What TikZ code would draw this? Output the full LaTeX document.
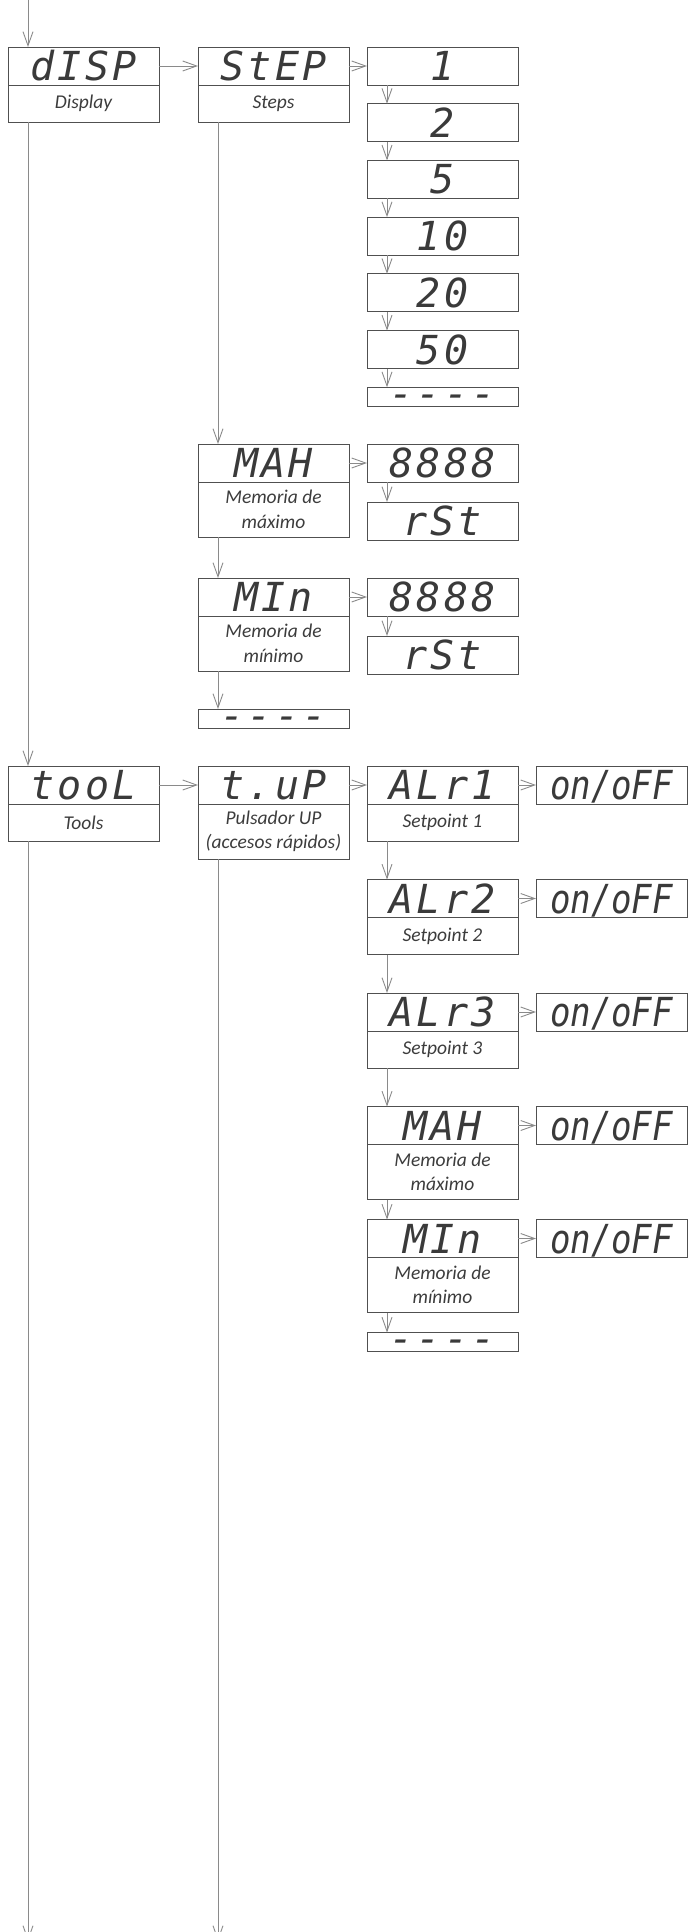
\documentclass[tikz,border=0pt]{standalone}
\usepackage{fontspec}
\usetikzlibrary{arrows.meta, positioning}

\newfontfamily\lblfont{Carlito}
\newfontfamily\segfont{DejaVu Sans Mono}[LetterSpace=8]
\newfontfamily\segnarrowfont{DejaVu Sans Mono}[FakeStretch=0.85]

\definecolor{boxline}{HTML}{505050}
\definecolor{connline}{HTML}{8A8A8A}
\definecolor{segtext}{HTML}{3A3A3A}
\definecolor{lbltext}{HTML}{3C3C3C}

\begin{document}
\begin{tikzpicture}[
  x=1pt, y=1pt,
  node distance=18pt,
  seg/.style={draw=boxline, line width=0.9pt, outer sep=0pt, inner sep=0pt,
    minimum width=151pt, minimum height=38pt, text height=29pt, text depth=0pt,
    text=segtext, font=\segfont\itshape\fontsize{40}{40}\selectfont},
  segnarrow/.style={seg, font=\segnarrowfont\itshape\fontsize{40}{40}\selectfont},
  dashbox/.style={seg, minimum height=19pt, text height=0pt, text depth=0pt},
  lbl/.style={draw=boxline, line width=0.9pt, outer sep=0pt, inner sep=0pt,
    minimum width=151pt, minimum height=37pt, align=center,
    text=lbltext, font=\lblfont\itshape\fontsize{19.5}{24.5}\selectfont},
  lbltwo/.style={lbl, minimum height=55pt},
  conn/.style={draw=connline, line width=0.9pt,
    -{Straight Barb[length=14pt, width=10pt]}}
]
\useasboundingbox (0,0) rectangle (689,-1932);

% first level
\node[seg, anchor=north west] (disp) at (8,-47) {dISP};
\node[lbl, below=0pt of disp] (disp-l) {Display};
\node[seg, below=644pt of disp-l] (tool) {tooL};
\node[lbl, below=0pt of tool] (tool-l) {Tools};

% display menu
\node[seg, right=39pt of disp] (step) {StEP};
\node[lbl, below=0pt of step] (step-l) {Steps};
\node[seg, right=of step] (st1) {1};
\node[seg, below=18.7pt of st1] (st2) {2};
\node[seg, below=18.7pt of st2] (st5) {5};
\node[seg, below=18.7pt of st5] (st10) {10};
\node[seg, below=18.7pt of st10] (st20) {20};
\node[seg, below=18.7pt of st20] (st50) {50};
\node[dashbox, below=18.7pt of st50] (st-end) {\raisebox{-10.8pt}{----}};

\node[seg, below=322pt of step-l] (max) {MAH};
\node[lbltwo, below=0pt of max] (max-l) {Memoria de\\máximo};
\node[seg, right=of max] (max-v) {8888};
\node[seg, below=20pt of max-v] (max-r) {rSt};
\node[seg, below=41pt of max-l] (min) {MIn};
\node[lbltwo, below=0pt of min] (min-l) {Memoria de\\mínimo};
\node[seg, right=of min] (min-v) {8888};
\node[seg, below=20pt of min-v] (min-r) {rSt};
\node[dashbox, below=38pt of min-l] (disp-end) {\raisebox{-10.8pt}{----}};

% tools menu
\node[seg, right=39pt of tool] (tup) {t.uP};
\node[lbltwo, below=0pt of tup] (tup-l) {Pulsador UP\\(accesos rápidos)};
\node[seg, right=of tup] (alr1) {ALr1};
\node[lbl, below=0pt of alr1] (alr1-l) {Setpoint 1};
\node[seg, below=38.5pt of alr1-l] (alr2) {ALr2};
\node[lbl, below=0pt of alr2] (alr2-l) {Setpoint 2};
\node[seg, below=38.5pt of alr2-l] (alr3) {ALr3};
\node[lbl, below=0pt of alr3] (alr3-l) {Setpoint 3};
\node[seg, below=38.5pt of alr3-l] (tmax) {MAH};
\node[lbltwo, below=0pt of tmax] (tmax-l) {Memoria de\\máximo};
\node[seg, below=20pt of tmax-l] (tmin) {MIn};
\node[lbltwo, below=0pt of tmin] (tmin-l) {Memoria de\\mínimo};
\node[dashbox, below=20pt of tmin-l] (tup-end) {\raisebox{-10.8pt}{----}};

\node[segnarrow, right=of alr1] (on1) {on/oFF};
\node[segnarrow, right=of alr2] (on2) {on/oFF};
\node[segnarrow, right=of alr3] (on3) {on/oFF};
\node[segnarrow, right=of tmax] (on4) {on/oFF};
\node[segnarrow, right=of tmin] (on5) {on/oFF};

\coordinate (entry) at (28,0);
\coordinate (exit1) at (28,-1941);
\coordinate (exit2) at (218,-1941);

% connectors
\draw[conn] (entry) -- ([xshift=20pt]disp.north west);
\draw[conn] (disp) -- (step);
\draw[conn] (step) -- (st1);
\draw[conn] ([xshift=20pt]st1.south west) -- ([xshift=20pt]st2.north west);
\draw[conn] ([xshift=20pt]st2.south west) -- ([xshift=20pt]st5.north west);
\draw[conn] ([xshift=20pt]st5.south west) -- ([xshift=20pt]st10.north west);
\draw[conn] ([xshift=20pt]st10.south west) -- ([xshift=20pt]st20.north west);
\draw[conn] ([xshift=20pt]st20.south west) -- ([xshift=20pt]st50.north west);
\draw[conn] ([xshift=20pt]st50.south west) -- ([xshift=20pt]st-end.north west);

\draw[conn] ([xshift=20pt]step-l.south west) -- ([xshift=20pt]max.north west);
\draw[conn] (max) -- (max-v);
\draw[conn] ([xshift=20pt]max-v.south west) -- ([xshift=20pt]max-r.north west);
\draw[conn] ([xshift=20pt]max-l.south west) -- ([xshift=20pt]min.north west);
\draw[conn] (min) -- (min-v);
\draw[conn] ([xshift=20pt]min-v.south west) -- ([xshift=20pt]min-r.north west);
\draw[conn] ([xshift=20pt]min-l.south west) -- ([xshift=20pt]disp-end.north west);

\draw[conn] ([xshift=20pt]disp-l.south west) -- ([xshift=20pt]tool.north west);
\draw[conn] (tool) -- (tup);
\draw[conn] ([xshift=20pt]tool-l.south west) -- (exit1);
\draw[conn] (tup) -- (alr1);
\draw[conn] ([xshift=20pt]tup-l.south west) -- (exit2);

\draw[conn] (alr1) -- (on1);
\draw[conn] (alr2) -- (on2);
\draw[conn] (alr3) -- (on3);
\draw[conn] (tmax) -- (on4);
\draw[conn] (tmin) -- (on5);
\draw[conn] ([xshift=20pt]alr1-l.south west) -- ([xshift=20pt]alr2.north west);
\draw[conn] ([xshift=20pt]alr2-l.south west) -- ([xshift=20pt]alr3.north west);
\draw[conn] ([xshift=20pt]alr3-l.south west) -- ([xshift=20pt]tmax.north west);
\draw[conn] ([xshift=20pt]tmax-l.south west) -- ([xshift=20pt]tmin.north west);
\draw[conn] ([xshift=20pt]tmin-l.south west) -- ([xshift=20pt]tup-end.north west);
\end{tikzpicture}
\end{document}
